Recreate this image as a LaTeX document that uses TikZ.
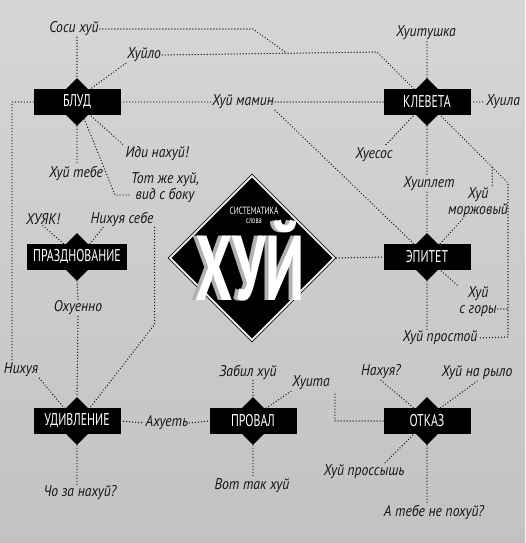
\documentclass[tikz,border=0pt]{standalone}
\usepackage{fontspec}
\setmainfont{PT Sans}
\newfontfamily\wordfont[FakeStretch=0.88]{PT Sans}
\newfontfamily\boxfont[FakeStretch=0.7]{PT Sans}
\newfontfamily\titlefont[FakeStretch=0.64]{PT Sans}
\usetikzlibrary{shapes.geometric,calc}
\definecolor{bgtop}{HTML}{D6D6D6}
\definecolor{bgbottom}{HTML}{C2C2C2}
\definecolor{ink}{HTML}{151515}

\begin{document}
\begin{tikzpicture}[x=1pt,y=-1pt,
      catbox/.style={rectangle,fill=black,text=white,minimum width=87pt,
                     minimum height=26pt,inner xsep=6pt,
                     font=\boxfont\fontsize{17}{17}\selectfont},
      catdiamond/.style={diamond,fill=black,minimum size=48pt,inner sep=0pt},
      word/.style={text=ink,inner sep=1pt,align=center,
                   font=\wordfont\itshape\fontsize{15.5}{16}\selectfont},
      link/.style={draw=ink,line width=1.4pt,line cap=round,
                   dash pattern=on 0pt off 3pt}
    ]

    % Background
    \fill[top color=bgtop,bottom color=bgbottom] (0,0) rectangle (525,543);

    % Central emblem
    \node[diamond,draw=ink,line width=0.6pt,fill=white!88!gray,
          minimum size=168pt,inner sep=0pt] (emblem-rim) at (252,258) {};
    \node[diamond,fill=black,minimum size=161pt,inner sep=0pt] (emblem) at (252,258) {};
    \node[text=gray!60,anchor=base,inner sep=0pt,
          font=\titlefont\bfseries\fontsize{92}{92}\selectfont] (title-shadow) at (246,300) {ХУЙ};
    \node[text=white,anchor=base,inner sep=0pt,
          font=\titlefont\bfseries\fontsize{92}{92}\selectfont] (title) at (250,300) {ХУЙ};
    \node[text=white,inner sep=0pt,font=\boxfont\fontsize{10.5}{10.5}\selectfont] (sys) at (254,211) {СИСТЕМАТИКА};
    \node[text=white,inner sep=0pt,font=\boxfont\fontsize{9}{9}\selectfont] (slova) at (254,221) {слова};

    % Categories
    \node[catdiamond] (blud-d) at (77,102) {};
    \node[catbox] (blud) at (77,102) {БЛУД};
    \node[catdiamond] (kleveta-d) at (427,102) {};
    \node[catbox] (kleveta) at (427,102) {КЛЕВЕТА};
    \node[catdiamond] (prazd-d) at (77,257) {};
    \node[catbox] (prazd) at (77,257) {ПРАЗДНОВАНИЕ};
    \node[catdiamond] (epitet-d) at (427,257) {};
    \node[catbox] (epitet) at (427,257) {ЭПИТЕТ};
    \node[catdiamond] (udivl-d) at (77,421) {};
    \node[catbox] (udivl) at (77,421) {УДИВЛЕНИЕ};
    \node[catdiamond] (proval-d) at (253,421) {};
    \node[catbox] (proval) at (253,421) {ПРОВАЛ};
    \node[catdiamond] (otkaz-d) at (427,421) {};
    \node[catbox] (otkaz) at (427,421) {ОТКАЗ};

    % Words
    \node[word] (sosi) at (74,29) {Соси хуй};
    \node[word] (huylo) at (144,55) {Хуйло};
    \node[word] (mamin) at (243,102) {Хуй мамин};
    \node[word] (idi) at (157,154) {Иди нахуй!};
    \node[word] (tebe) at (76,173) {Хуй тебе};
    \node[word] (bokom) at (165,188) {Тот же хуй,\\вид с боку};
    \node[word] (huyak) at (43,219) {ХУЯК!};
    \node[word] (sebe) at (122,219) {Нихуя себе};
    \node[word] (ohuenno) at (78,308) {Охуенно};
    \node[word] (nihuya) at (21,370) {Нихуя};
    \node[word] (ahuet) at (167,423) {Ахуеть};
    \node[word] (choza) at (80,493) {Чо за нахуй?};
    \node[word] (zabil) at (248,372) {Забил хуй};
    \node[word] (huita) at (311,383) {Хуита};
    \node[word] (votak) at (252,486) {Вот так хуй};
    \node[word] (hitushka) at (426,33) {Хуитушка};
    \node[word] (huila) at (503,102) {Хуила};
    \node[word] (huesos) at (374,155) {Хуесос};
    \node[word] (huiplet) at (429,184) {Хуиплет};
    \node[word] (morzh) at (478,203) {Хуй\\моржовый};
    \node[word] (gory) at (478,302) {Хуй\\с горы};
    \node[word] (prostoy) at (440,338) {Хуй простой};
    \node[word] (nahuya) at (381,372) {Нахуя?};
    \node[word] (rylo) at (477,373) {Хуй на рыло};
    \node[word] (prossysh) at (364,472) {Хуй проссышь};
    \node[word] (pohuy) at (434,512) {А тебе не похуй?};

    % Turning points
    \coordinate (sositurn) at (253,29);
    \coordinate (sosimerge) at (285,52);
    \coordinate (klevturn) at (377,52);
    \coordinate (lft) at (12,102);
    \coordinate (bokturn) at (115,195);
    \coordinate (rtop) at (508,183);
    \coordinate (rbot) at (508,337);

    % BLUD
    \draw[link] (sosi.east) -- (sositurn) -- (sosimerge);
    \draw[link] (blud-d.north |- sosi.south) -- (blud-d.north);
    \draw[link] (huylo.east) -- (klevturn) -- (kleveta-d.north west);
    \draw[link] (huylo.south west) -- (blud-d.north east);
    \draw[link] (blud.east) -- (mamin.west);
    \draw[link] (blud.west) -- (lft) -- (lft |- nihuya.north);
    \draw[link] (blud-d.south east) -- (idi.north west);
    \draw[link] ($(blud-d.south)!0.3!(blud-d.east)$) -- (bokturn) -- (bokturn -| bokom.west);
    \draw[link] (blud-d.south) -- (blud-d.south |- tebe.north);

    % KLEVETA
    \draw[link] (mamin.east) -- (kleveta.west);
    \draw[link] (mamin.south east) -- (epitet-d.north west);
    \draw[link] (kleveta-d.north) -- (kleveta-d.north |- hitushka.south);
    \draw[link] (kleveta.east) -- (huila.west);
    \draw[link] (kleveta-d.south west) -- ($(huesos.north)+(10,0)$);
    \draw[link] (kleveta-d.south) -- (kleveta-d.south |- huiplet.north);
    \draw[link] (kleveta-d.south east) -- (rtop) -- (rbot) -- (prostoy.east);
    \coordinate (morzhfork) at ($(kleveta-d.south east)!0.77!(rtop)$);
    \draw[link] (morzhfork) -- (morzhfork |- morzh.north);

    % EPITET
    \draw[link] (emblem-rim.east) -- (epitet.west);
    \draw[link] (epitet-d.north |- huiplet.south) -- (epitet-d.north);
    \draw[link] ($(morzh.south)!0.5!(morzh.south west)$) -- (epitet-d.north east);
    \draw[link] (epitet-d.south east) -- (gory.north west);
    \coordinate (goryend) at ($(gory.east)+(0,7)$);
    \draw[link] (goryend) -- (goryend -| rtop);
    \draw[link] (epitet-d.south) -- (epitet-d.south |- prostoy.north);

    % PRAZDNOVANIE
    \draw[link] (huyak.south) -- (prazd-d.north west);
    \draw[link] ($(sebe.south)+(-19,0)$) -- (prazd-d.north east);
    \draw[link] (sebe.south east) -- ++(0,97) -- (udivl-d.north east);
    \draw[link] (prazd-d.south) -- (ohuenno.north);

    % UDIVLENIE
    \draw[link] (ohuenno.south) -- (udivl-d.north);
    \draw[link] (nihuya.south east) -- (udivl-d.north west);
    \draw[link] (udivl.east) -- (ahuet.west);
    \draw[link] (udivl-d.south) -- (udivl-d.south |- choza.north);

    % PROVAL
    \draw[link] (ahuet.east) -- (proval.west);
    \draw[link] (proval-d.north |- zabil.south) -- (proval-d.north);
    \draw[link] (huita.south west) -- (proval-d.north east);
    \draw[link] ($(huita.south east)+(4,3)$) |- (otkaz.west);
    \draw[link] (proval-d.south) -- (proval-d.south |- votak.north);

    % OTKAZ
    \draw[link] (nahuya.south) -- (otkaz-d.north west);
    \draw[link] (rylo.south) -- (otkaz-d.north east);
    \draw[link] (otkaz-d.south west) -- ($(prossysh.north)+(20,0)$);
    \draw[link] (otkaz-d.south) -- (otkaz-d.south |- pohuy.north);

  \end{tikzpicture}
\end{document}
